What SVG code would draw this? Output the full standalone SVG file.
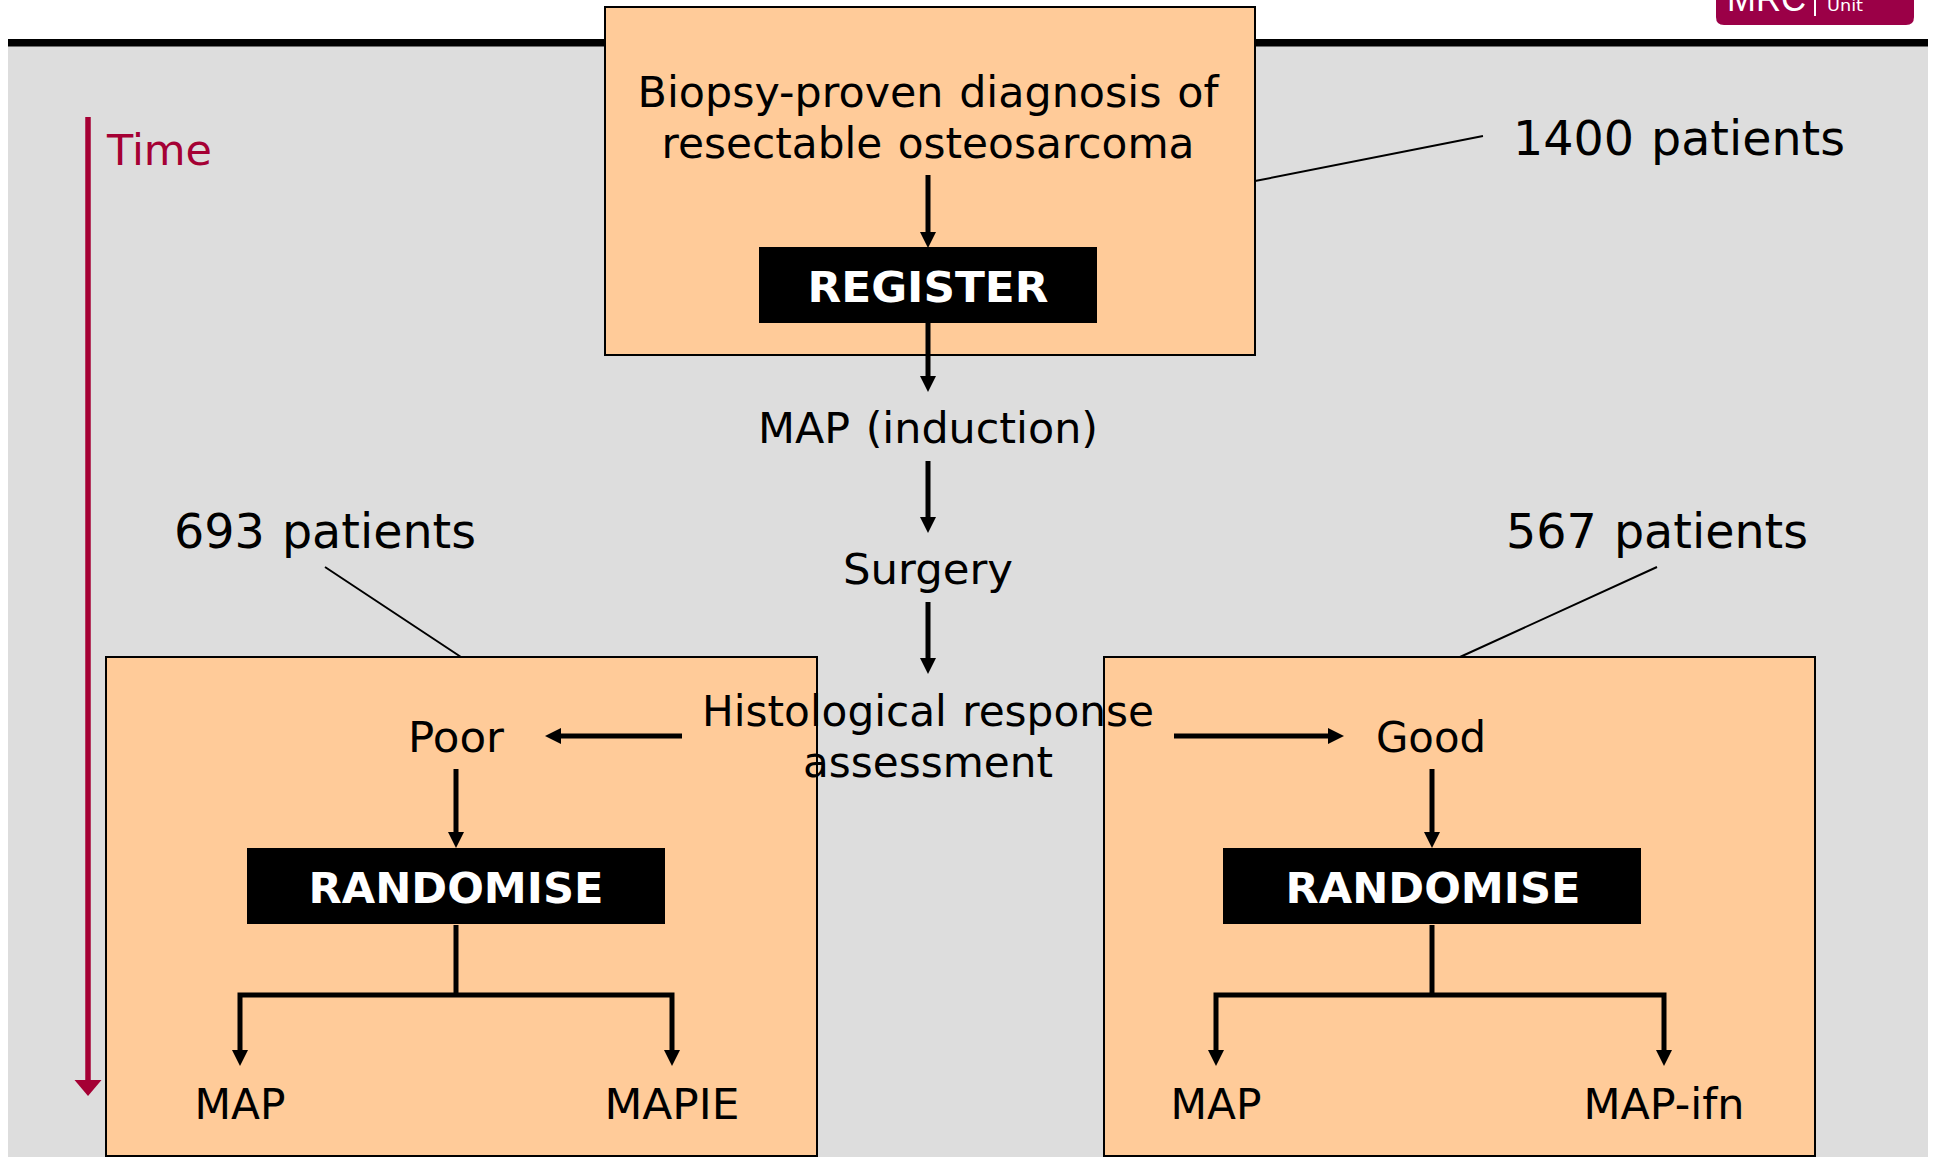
<svg xmlns="http://www.w3.org/2000/svg" width="1933" height="1157" viewBox="0 0 1933 1157">
<style>
text{font-family:"DejaVu Sans",Verdana,sans-serif;fill:#000;text-anchor:middle;font-size:43px;word-spacing:2px}
.p{font-size:48px}
.b{font-weight:bold;fill:#fff}
.box{fill:#ffcb99;stroke:#000;stroke-width:2}
.bar{fill:#000}
.c{fill:none;stroke:#000;stroke-width:5}
.a{marker-end:url(#ah)}
.l{fill:none;stroke:#000;stroke-width:2}
</style>
<defs>
<marker id="ah" markerUnits="userSpaceOnUse" markerWidth="16" markerHeight="16" refX="8" refY="8" orient="auto"><path d="M0 0L16 8L0 16Z" fill="#000"/></marker>
</defs>
<rect width="1933" height="1157" fill="#fff"/>
<g id="background">
<rect x="8" y="46" width="1920" height="1111" fill="#ddd"/>
<rect x="8" y="39" width="1920" height="7.500" fill="#000"/>
</g>
<g id="logo">
<path d="M1716 0H1914V17Q1914 25 1906 25H1724Q1716 25 1716 17Z" fill="#9b0047"/>
<text x="1727" y="11" textLength="79" lengthAdjust="spacingAndGlyphs" style="font-family:'Liberation Sans',sans-serif;font-size:36px;fill:#fff;text-anchor:start">MRC</text>
<rect x="1814" y="0" width="2" height="16" fill="#fff"/>
<text x="1827" y="11" textLength="36" lengthAdjust="spacingAndGlyphs" style="font-size:16px;fill:#fff;text-anchor:start">Unit</text>
</g>
<g id="time">
<path d="M88 117V1082" fill="none" stroke="#a50034" stroke-width="5.500"/>
<path d="M74.500 1080H101.500L88 1096Z" fill="#a50034"/>
<text x="107" y="165" textLength="105" lengthAdjust="spacingAndGlyphs" style="fill:#a50034;text-anchor:start">Time</text>
</g>
<g id="node-left"><rect class="box" x="106" y="657" width="711" height="499"/></g>
<g id="node-right"><rect class="box" x="1104" y="657" width="711" height="499"/></g>
<g id="node-top"><rect class="box" x="605" y="7" width="650" height="348"/></g>
<g id="connectors">
<path class="l" d="M1255 181L1483 136M325 567L461 657M1657 567L1460 657"/>
<path class="c a" d="M928 175V240"/>
<path class="c a" d="M928 323V384"/>
<path class="c a" d="M928 461V525"/>
<path class="c a" d="M928 602V666"/>
<path class="c a" d="M682 736H553"/>
<path class="c a" d="M1174 736H1336"/>
<path class="c a" d="M456 769V840"/>
<path class="c a" d="M1432 769V840"/>
<path class="c" d="M456 925V995"/>
<path class="c a" d="M456 995H240V1058"/>
<path class="c a" d="M456 995H672V1058"/>
<path class="c" d="M1432 925V995"/>
<path class="c a" d="M1432 995H1216V1058"/>
<path class="c a" d="M1432 995H1664V1058"/>
</g>
<g id="register"><rect class="bar" x="759" y="247" width="338" height="76"/><text x="928" y="302" textLength="241" lengthAdjust="spacingAndGlyphs" class="b">REGISTER</text></g>
<g id="rand-left"><rect class="bar" x="247" y="848" width="418" height="76"/><text x="456" y="903" textLength="295" lengthAdjust="spacingAndGlyphs" class="b">RANDOMISE</text></g>
<g id="rand-right"><rect class="bar" x="1223" y="848" width="418" height="76"/><text x="1433" y="903" textLength="295" lengthAdjust="spacingAndGlyphs" class="b">RANDOMISE</text></g>
<g id="labels">
<text x="928" y="107" textLength="581" lengthAdjust="spacingAndGlyphs">Biopsy-proven diagnosis of</text>
<text x="928" y="158" textLength="533" lengthAdjust="spacingAndGlyphs">resectable osteosarcoma</text>
<text x="1679" y="155" textLength="332" lengthAdjust="spacingAndGlyphs" class="p">1400 patients</text>
<text x="325" y="548" textLength="302" lengthAdjust="spacingAndGlyphs" class="p">693 patients</text>
<text x="1657" y="548" textLength="302" lengthAdjust="spacingAndGlyphs" class="p">567 patients</text>
<text x="928" y="443" textLength="340" lengthAdjust="spacingAndGlyphs">MAP (induction)</text>
<text x="928" y="584" textLength="170" lengthAdjust="spacingAndGlyphs">Surgery</text>
<text x="928" y="726" textLength="452" lengthAdjust="spacingAndGlyphs">Histological response</text>
<text x="928" y="777" textLength="250" lengthAdjust="spacingAndGlyphs">assessment</text>
<text x="456" y="752" textLength="96" lengthAdjust="spacingAndGlyphs">Poor</text>
<text x="1431" y="752" textLength="110" lengthAdjust="spacingAndGlyphs">Good</text>
<text x="240" y="1119" textLength="91" lengthAdjust="spacingAndGlyphs">MAP</text>
<text x="672" y="1119" textLength="135" lengthAdjust="spacingAndGlyphs">MAPIE</text>
<text x="1216" y="1119" textLength="91" lengthAdjust="spacingAndGlyphs">MAP</text>
<text x="1664" y="1119" textLength="161" lengthAdjust="spacingAndGlyphs">MAP-ifn</text>
</g>
</svg>
